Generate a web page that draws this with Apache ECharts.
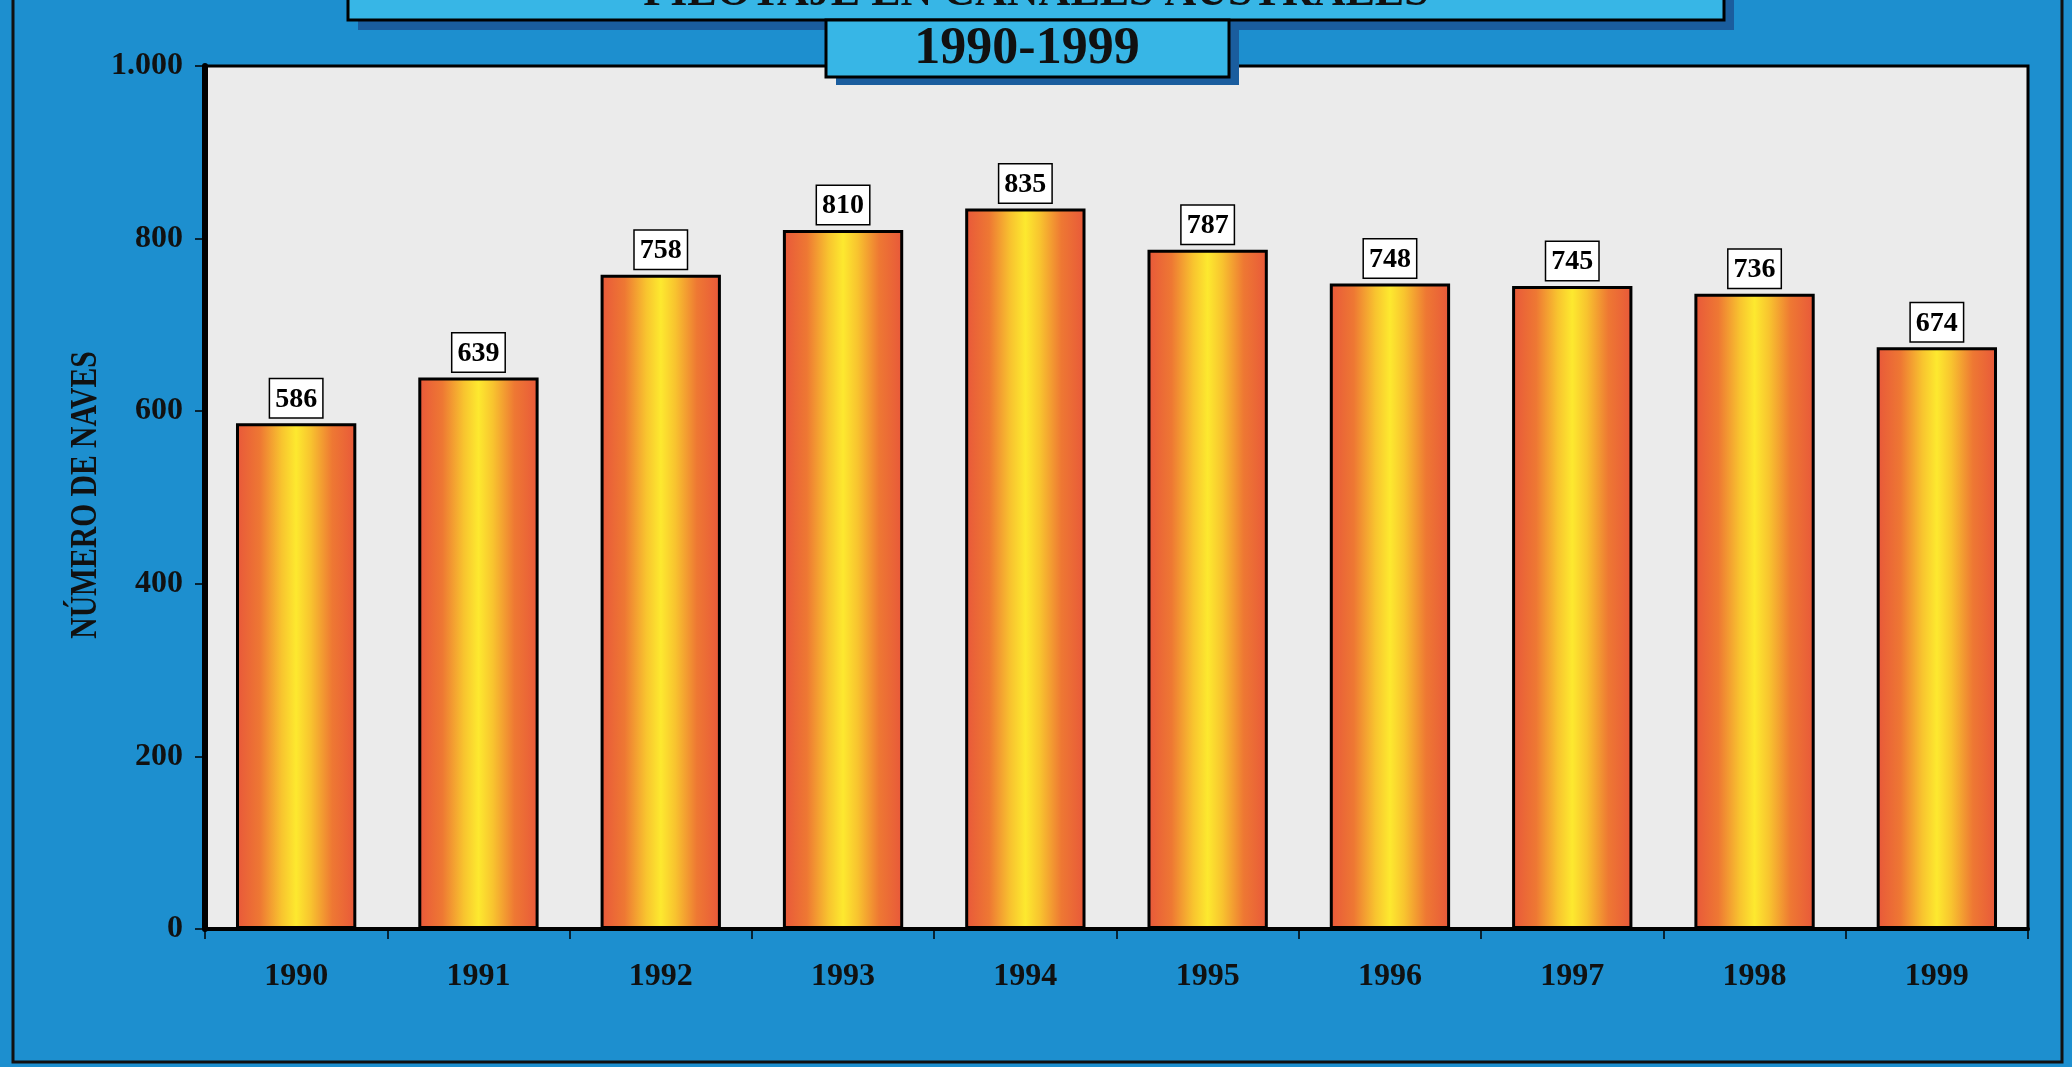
<!DOCTYPE html>
<html>
<head>
<meta charset="utf-8">
<script src="https://cdn.jsdelivr.net/npm/echarts@6/dist/echarts.min.js"></script>
<style>
  html, body { margin: 0; padding: 0; background: #1d8fcf; }
  #main { width: 2072px; height: 1067px; }
</style>
</head>
<body>
<div id="main"></div>
<script>
// data
const years = ['1990', '1991', '1992', '1993', '1994', '1995', '1996', '1997', '1998', '1999'];
const naves = [586, 639, 758, 810, 835, 787, 748, 745, 736, 674];
const yTicks = [0, 200, 400, 600, 800, 1000];

const serif = 'Liberation Serif';

let chart = echarts.init(document.getElementById('main'));

const barFill = new echarts.graphic.LinearGradient(0, 0, 1, 0, [
    { offset: 0, color: '#e8573a' },
    { offset: 0.2, color: '#ee7833' },
    { offset: 0.38, color: '#f8c42f' },
    { offset: 0.5, color: '#fde92f' },
    { offset: 0.62, color: '#f8c42f' },
    { offset: 0.8, color: '#ee7833' },
    { offset: 1, color: '#e8573a' }
]);

let option = {
    backgroundColor: '#1d8fcf',
    animation: false,
    grid: {
        left: 205,
        right: 44,
        top: 66,
        bottom: 138,
        show: true,
        backgroundColor: '#ebebeb',
        borderColor: '#000',
        borderWidth: 3
    },
    xAxis: {
        type: 'category',
        data: years,
        axisLine: { lineStyle: { color: '#000', width: 4 } },
        axisTick: { show: true, inside: false, length: 10, lineStyle: { color: '#000', width: 1.5 } },
        axisLabel: {
            margin: 32,
            color: '#111',
            fontFamily: serif,
            fontWeight: 'bold',
            fontSize: 32
        }
    },
    yAxis: {
        type: 'value',
        min: 0,
        max: 1000,
        interval: 200,
        splitLine: { show: false },
        axisLine: { show: true, lineStyle: { color: '#000', width: 6 } },
        axisTick: { show: true, length: 10, lineStyle: { color: '#000', width: 1.5 } },
        axisLabel: {
            margin: 22,
            color: '#111',
            fontFamily: serif,
            fontWeight: 'bold',
            fontSize: 32,
            formatter: function (v) {
                return yTicks.indexOf(v) >= 0 ? (v >= 1000 ? '1.000' : String(v)) : '';
            }
        }
    },
    series: [{
        type: 'bar',
        data: naves,
        barWidth: '66%',
        itemStyle: {
            color: barFill,
            borderColor: '#000',
            borderWidth: 3
        },
        label: {
            show: true,
            position: 'top',
            distance: 6,
            color: '#000',
            fontFamily: serif,
            fontWeight: 'bold',
            fontSize: 28,
            backgroundColor: '#fff',
            borderColor: '#000',
            borderWidth: 1.5,
            padding: [6, 5, 4, 5]
        }
    }],
    graphic: [
        // outer frame
        {
            type: 'rect',
            shape: { x: 13, y: -10, width: 2049, height: 1072 },
            style: { fill: 'none', stroke: '#111', lineWidth: 3 },
            z: 100
        },
        // y axis title
        {
            type: 'text',
            x: 86,
            y: 495,
            rotation: Math.PI / 2,
            scaleX: 0.8,
            style: {
                text: 'NÚMERO DE NAVES',
                font: 'bold 37px "Liberation Serif"',
                fill: '#111',
                align: 'center',
                verticalAlign: 'middle'
            },
            z: 50
        },
        // top title box (shadow, box, text)
        {
            type: 'rect',
            shape: { x: 358, y: -20, width: 1376, height: 50 },
            style: { fill: '#1a5d9e' },
            z: 59
        },
        {
            type: 'rect',
            shape: { x: 348, y: -20, width: 1376, height: 40 },
            style: { fill: '#37b6e6', stroke: '#000', lineWidth: 3 },
            z: 60
        },
        {
            type: 'text',
            x: 1036,
            y: -6,
            style: {
                text: 'PILOTAJE EN CANALES AUSTRALES',
                font: 'bold 44px "Liberation Serif"',
                fill: '#111',
                align: 'center',
                verticalAlign: 'middle'
            },
            z: 61
        },
        // year range box (shadow, box, text)
        {
            type: 'rect',
            shape: { x: 836, y: 28, width: 403, height: 57 },
            style: { fill: '#1a5d9e' },
            z: 62
        },
        {
            type: 'rect',
            shape: { x: 826, y: 20, width: 403, height: 57 },
            style: { fill: '#37b6e6', stroke: '#000', lineWidth: 3 },
            z: 63
        },
        {
            type: 'text',
            x: 1027,
            y: 50,
            style: {
                text: '1990-1999',
                font: 'bold 52px "Liberation Serif"',
                fill: '#111',
                align: 'center',
                verticalAlign: 'middle'
            },
            z: 64
        }
    ]
};

chart.setOption(option);
</script>
</body>
</html>
